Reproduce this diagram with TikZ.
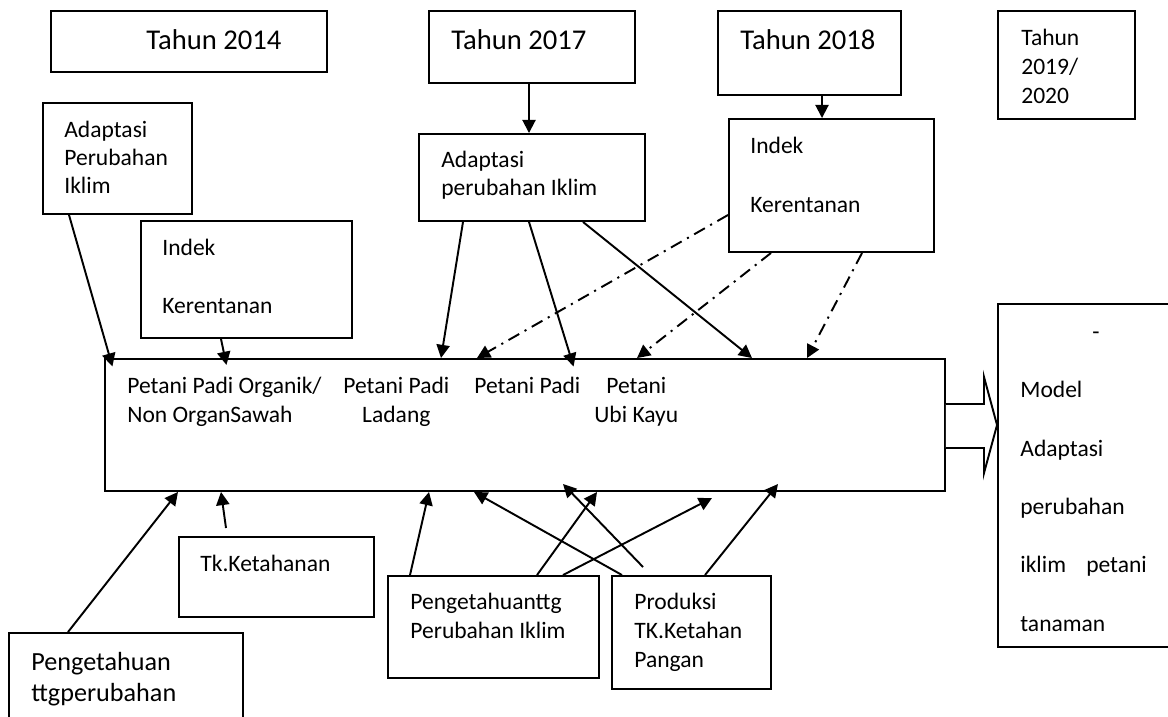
\documentclass[tikz,border=0pt]{standalone}
\usepackage{fontspec}
\setmainfont{Carlito}
\usetikzlibrary{arrows.meta,fit}
\newcommand\fsm[1]{\fontsize{13.4pt}{#1}\selectfont}
\begin{document}
\begin{tikzpicture}[x=0.02cm,y=-0.02cm,
  box/.style={draw, line width=1.1pt, inner sep=0pt, rectangle},
  txt/.style={anchor=base west, inner sep=0pt, align=left, font=\fsm{16.2pt}},
  big/.style={anchor=base west, inner sep=0pt, font=\fontsize{16.3pt}{19pt}\selectfont},
  arr/.style={line width=1.1pt, -{Triangle[length=7.5pt,width=7.5pt]}},
  dd/.style={arr, dash pattern=on 7pt off 3.5pt on 1.2pt off 3.5pt}]
\useasboundingbox (0,0) rectangle (1168,716);
\clip (0,0) rectangle (1168,716);

% boxes
\node[box, fit={(51,11)(327,72)}] (t14) {};
\node[box, fit={(429,11)(635,83)}] (t17) {};
\node[box, fit={(718,11)(901,95)}] (t18) {};
\node[box, fit={(998,11)(1135,119)}] (t19) {};
\node[box, fit={(43,103)(192,214)}] (a14) {};
\node[box, fit={(141,221)(352,338)}] (ik14) {};
\node[box, fit={(419,134)(645,221)}] (a17) {};
\node[box, fit={(729,119)(934,252)}] (ik18) {};
\node[box, fit={(105,359)(945,491)}] (main) {};
\node[box, fit={(998,304)(1185,647)}] (model) {};
\node[box, fit={(179,537)(374,617)}] (tk) {};
\node[box, fit={(9,633)(243,740)}] (p1) {};
\node[box, fit={(388,576)(599,678)}] (p2) {};
\node[box, fit={(612,576)(771,689)}] (pr) {};

% texts (multi-line nodes: base = baseline of last line)
\node[big] (tt14) at (146,50) {Tahun 2014};
\node[big] (tt17) at (451,50) {Tahun 2017};
\node[big] (tt18) at (740,50) {Tahun 2018};
\node[txt, font=\fsm{16.7pt}] (tt19) at (1021,104) {Tahun\\2019/\\2020};
\node[txt] (ta14) at (64,194) {Adaptasi\\Perubahan\\Iklim};
\node[txt, font=\fsm{32.9pt}] (tik14) at (162,313) {Indek\\Kerentanan};
\node[txt, font=\fsm{15.9pt}] (ta17) at (441,195) {Adaptasi\\perubahan Iklim};
\node[txt, font=\fsm{33.5pt}] (tik18) at (750,212) {Indek\\Kerentanan};
\node[txt, font=\fsm{16.4pt}] (m1) at (127,422) {Petani Padi Organik/\\Non OrganSawah};
\node[txt, align=center, font=\fsm{16.4pt}] (m2) at (343,422) {Petani Padi\\Ladang};
\node[txt] (m3) at (474,393) {Petani Padi};
\node[txt, align=center, font=\fsm{16.4pt}] (m4) at (594,422) {Petani\\Ubi Kayu};
\node[txt] (ttk) at (200,571) {Tk.Ketahanan};
\node[txt, font=\fontsize{14.9pt}{17.6pt}\selectfont] (tp1) at (31,701) {Pengetahuan\\ttgperubahan};
\node[txt, font=\fsm{16.4pt}] (tp2) at (410,638) {Pengetahuanttg\\Perubahan Iklim};
\node[txt, font=\fsm{16.4pt}] (tpr) at (634,667) {Produksi\\TK.Ketahan\\Pangan};
\node[txt, anchor=base] (tdash) at (1096,339) {-};
\node[txt, font=\fsm{33.2pt}] (tmodel) at (1020,631) {Model\\Adaptasi\\perubahan\\iklim\hspace{11.5pt}petani\\tanaman};

% block arrow
\draw[line width=1.1pt, fill=white] (main.east |- 0,404) -- (984,404) -- (984,377)
  -- (model.west |- 0,425) -- (984,473) -- (984,448) -- (main.east |- 0,448);

% top arrows
\draw[arr] (529,0 |- t17.south) -- (529,0 |- a17.north);
\draw[arr] (822,0 |- t18.south) -- (822,0 |- ik18.north);
\draw[arr, shorten >=-5pt] (69,0 |- a14.south) -- (110,0 |- main.north);
\draw[arr, shorten >=-4pt] (221,0 |- ik14.south) -- (225,0 |- main.north);
\draw[arr] (463,0 |- a17.south) -- (441,0 |- main.north);
\draw[arr, shorten >=-5pt] (529,0 |- a17.south) -- (571,0 |- main.north);
\draw[arr] (583,0 |- a17.south) -- (752,0 |- main.north);
\draw[dd] (ik18.west |- 0,215) -- (477,0 |- main.north);
\draw[dd] (771,0 |- ik18.south) -- (637,0 |- main.north);
\draw[dd] (862,0 |- ik18.south) -- (807,0 |- main.north);

% bottom arrows
\coordinate (tkf) at (226,528);
\coordinate (e5) at (712,498);
\coordinate (prf) at (643,567);
\coordinate (e7) at (563,484);
\coordinate (e8) at (778,484);
\draw[arr] (68,0 |- p1.north) -- (178,0 |- main.south);
\draw[arr] (tkf) -- (221,0 |- main.south);
\draw[arr] (410,0 |- p2.north) -- (429,0 |- main.south);
\draw[arr] (537,0 |- p2.north) -- (597,0 |- main.south);
\draw[arr] (563,0 |- p2.north) -- (e5);
\draw[arr] (622,0 |- pr.north) -- (474,0 |- main.south);
\draw[arr] (prf) -- (e7);
\draw[arr] (705,0 |- pr.north) -- (e8);
\end{tikzpicture}
\end{document}
